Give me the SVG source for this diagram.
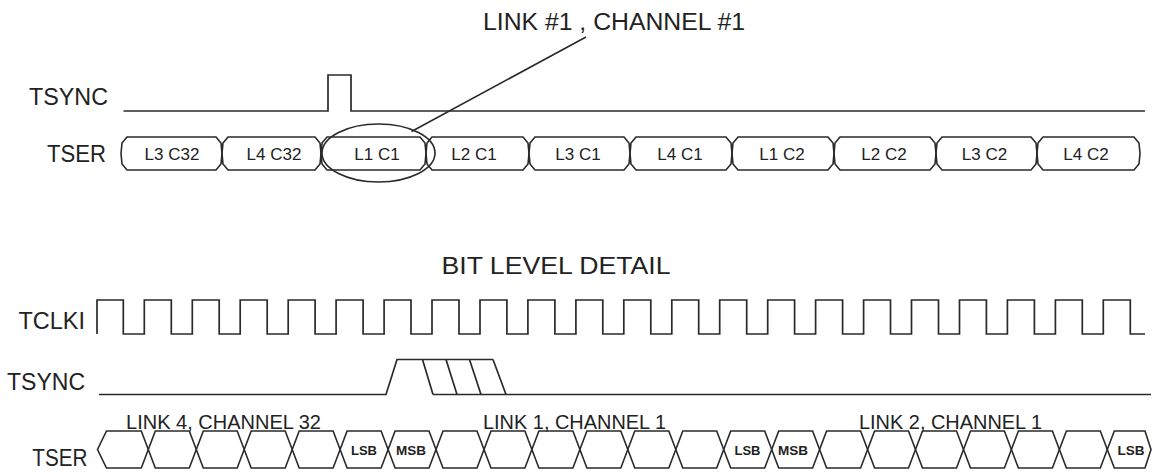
<svg xmlns="http://www.w3.org/2000/svg" width="1154" height="473" viewBox="0 0 1154 473">
<style>
.w{fill:none;stroke:#2a2a2a;stroke-width:1.7;stroke-linejoin:miter}
.bx{fill:none;stroke:#2a2a2a;stroke-width:1.6}
.lbl{font-family:"Liberation Sans",Arial,sans-serif;font-size:24px;fill:#222}
.ttl{font-family:"Liberation Sans",Arial,sans-serif;font-size:23px;fill:#222}
.sm{font-family:"Liberation Sans",Arial,sans-serif;font-size:17px;fill:#222;text-anchor:middle}
.bl{font-family:"Liberation Sans",Arial,sans-serif;font-size:20px;fill:#222}
.bit{font-family:"Liberation Sans",Arial,sans-serif;font-size:13px;font-weight:bold;fill:#222;text-anchor:middle}
</style>
<rect width="1154" height="473" fill="#fff"/>

<g id="title">
<text class="ttl" x="483" y="30" textLength="262" lengthAdjust="spacingAndGlyphs">LINK #1 , CHANNEL #1</text>
</g>

<g id="tsync-top">
<text class="lbl" x="29" y="104.5" textLength="79" lengthAdjust="spacingAndGlyphs">TSYNC</text>
<path class="w" d="M123.5,111 H328 V75 H351 V111 H1145"/>
</g>

<g id="tser-top">
<text class="lbl" x="47" y="162" textLength="59" lengthAdjust="spacingAndGlyphs">TSER</text>
<path class="bx" d="M127,137 H216 L221,143 L222,153.5 L221,164 L216,170 H127 L122,164 L121,153.5 L122,143 Z"/>
<path class="bx" d="M228,137 H315 L320,143 L321,153.5 L320,164 L315,170 H228 L223,164 L222,153.5 L223,143 Z"/>
<path class="bx" d="M327,137 H420 L425,143 L426,153.5 L425,164 L420,170 H327 L322,164 L321,153.5 L322,143 Z"/>
<path class="bx" d="M432,137 H523 L528,143 L529,153.5 L528,164 L523,170 H432 L427,164 L426,153.5 L427,143 Z"/>
<path class="bx" d="M535,137 H624 L629,143 L630,153.5 L629,164 L624,170 H535 L530,164 L529,153.5 L530,143 Z"/>
<path class="bx" d="M636,137 H726 L731,143 L732,153.5 L731,164 L726,170 H636 L631,164 L630,153.5 L631,143 Z"/>
<path class="bx" d="M738,137 H828 L833,143 L834,153.5 L833,164 L828,170 H738 L733,164 L732,153.5 L733,143 Z"/>
<path class="bx" d="M840,137 H930 L935,143 L936,153.5 L935,164 L930,170 H840 L835,164 L834,153.5 L835,143 Z"/>
<path class="bx" d="M942,137 H1031 L1036,143 L1037,153.5 L1036,164 L1031,170 H942 L937,164 L936,153.5 L937,143 Z"/>
<path class="bx" d="M1043,137 H1134 L1139,143 L1140,153.5 L1139,164 L1134,170 H1043 L1038,164 L1037,153.5 L1038,143 Z"/>
<text class="sm" x="172" y="160">L3 C32</text>
<text class="sm" x="274" y="160">L4 C32</text>
<text class="sm" x="377" y="160">L1 C1</text>
<text class="sm" x="474" y="160">L2 C1</text>
<text class="sm" x="578" y="160">L3 C1</text>
<text class="sm" x="680" y="160">L4 C1</text>
<text class="sm" x="782" y="160">L1 C2</text>
<text class="sm" x="884" y="160">L2 C2</text>
<text class="sm" x="984.5" y="160">L3 C2</text>
<text class="sm" x="1086" y="160">L4 C2</text>
</g>

<g id="callout">
<ellipse class="bx" cx="378.5" cy="153" rx="56.5" ry="29"/>
<line class="bx" x1="411.5" y1="131.5" x2="586" y2="37"/>
</g>

<g id="bit-title">
<text class="lbl" x="441.5" y="274" textLength="229" lengthAdjust="spacingAndGlyphs">BIT LEVEL DETAIL</text>
</g>

<g id="tclki">
<text class="lbl" x="18.5" y="329" textLength="66.5" lengthAdjust="spacingAndGlyphs">TCLKI</text>
<path class="w" d="M97,334 V300 H123.3 V334 H144.3 V300 H171.3 V334 H192.3 V300 H219.2 V334 H240.2 V300 H267.2 V334 H288.2 V300 H315.1 V334 H336.1 V300 H363.1 V334 H384.1 V300 H411 V334 H432 V300 H459 V334 H480 V300 H506.9 V334 H527.9 V300 H554.9 V334 H575.9 V300 H602.8 V334 H623.8 V300 H650.8 V334 H671.8 V300 H698.7 V334 H719.7 V300 H746.7 V334 H767.7 V300 H794.6 V334 H815.6 V300 H842.6 V334 H863.6 V300 H890.5 V334 H911.5 V300 H938.5 V334 H959.5 V300 H986.4 V334 H1007.4 V300 H1034.4 V334 H1055.4 V300 H1082.3 V334 H1103.3 V300 H1130.3 V334 H1145"/>
</g>

<g id="tsync-bit">
<text class="lbl" x="7" y="389.5" textLength="78" lengthAdjust="spacingAndGlyphs">TSYNC</text>
<path class="w" d="M99,394.5 H386 L397,359.5 H493"/>
<path class="w" d="M422.5,359.5 L433,394.5 M446,359.5 L457,394.5 M469.5,359.5 L481,394.5 M493,359.5 L506,394.5 M433,394.5 H1151"/>
</g>

<g id="tser-bit">
<text class="lbl" x="32.3" y="466" textLength="55" lengthAdjust="spacingAndGlyphs">TSER</text>
<path class="bx" d="M106.5,431 H141.3 L148.3,449.5 L141.3,468 H106.5 L97.5,449.5 Z"/>
<path class="bx" d="M155.3,431 H189.3 L196.3,449.5 L189.3,468 H155.3 L148.3,449.5 Z"/>
<path class="bx" d="M203.3,431 H237.2 L244.2,449.5 L237.2,468 H203.3 L196.3,449.5 Z"/>
<path class="bx" d="M251.2,431 H285.2 L292.2,449.5 L285.2,468 H251.2 L244.2,449.5 Z"/>
<path class="bx" d="M299.2,431 H333.1 L340.1,449.5 L333.1,468 H299.2 L292.2,449.5 Z"/>
<path class="bx" d="M347.1,431 H381.1 L388.1,449.5 L381.1,468 H347.1 L340.1,449.5 Z"/>
<path class="bx" d="M395.1,431 H429 L436,449.5 L429,468 H395.1 L388.1,449.5 Z"/>
<path class="bx" d="M443,431 H477 L484,449.5 L477,468 H443 L436,449.5 Z"/>
<path class="bx" d="M491,431 H524.9 L531.9,449.5 L524.9,468 H491 L484,449.5 Z"/>
<path class="bx" d="M538.9,431 H572.9 L579.9,449.5 L572.9,468 H538.9 L531.9,449.5 Z"/>
<path class="bx" d="M586.9,431 H620.8 L627.8,449.5 L620.8,468 H586.9 L579.9,449.5 Z"/>
<path class="bx" d="M634.8,431 H668.8 L675.8,449.5 L668.8,468 H634.8 L627.8,449.5 Z"/>
<path class="bx" d="M682.8,431 H716.7 L723.7,449.5 L716.7,468 H682.8 L675.8,449.5 Z"/>
<path class="bx" d="M730.7,431 H764.7 L771.7,449.5 L764.7,468 H730.7 L723.7,449.5 Z"/>
<path class="bx" d="M778.7,431 H812.6 L819.6,449.5 L812.6,468 H778.7 L771.7,449.5 Z"/>
<path class="bx" d="M826.6,431 H860.6 L867.6,449.5 L860.6,468 H826.6 L819.6,449.5 Z"/>
<path class="bx" d="M874.6,431 H908.5 L915.5,449.5 L908.5,468 H874.6 L867.6,449.5 Z"/>
<path class="bx" d="M922.5,431 H956.5 L963.5,449.5 L956.5,468 H922.5 L915.5,449.5 Z"/>
<path class="bx" d="M970.5,431 H1004.4 L1011.4,449.5 L1004.4,468 H970.5 L963.5,449.5 Z"/>
<path class="bx" d="M1018.4,431 H1052.4 L1059.4,449.5 L1052.4,468 H1018.4 L1011.4,449.5 Z"/>
<path class="bx" d="M1066.4,431 H1100.3 L1107.3,449.5 L1100.3,468 H1066.4 L1059.4,449.5 Z"/>
<path class="bx" d="M1114.3,431 H1145 L1151,449.5 L1145,468 H1114.3 L1107.3,449.5 Z"/>
<text class="bit" x="364" y="455" textLength="26" lengthAdjust="spacingAndGlyphs">LSB</text>
<text class="bit" x="411" y="455" textLength="30" lengthAdjust="spacingAndGlyphs">MSB</text>
<text class="bit" x="747.5" y="455" textLength="26" lengthAdjust="spacingAndGlyphs">LSB</text>
<text class="bit" x="793" y="455" textLength="30" lengthAdjust="spacingAndGlyphs">MSB</text>
<text class="bit" x="1131" y="455" textLength="27" lengthAdjust="spacingAndGlyphs">LSB</text>
<text class="bl" x="126" y="428.5" textLength="195" lengthAdjust="spacingAndGlyphs">LINK 4, CHANNEL 32</text>
<text class="bl" x="483" y="429" textLength="183" lengthAdjust="spacingAndGlyphs">LINK 1, CHANNEL 1</text>
<text class="bl" x="859" y="429" textLength="183" lengthAdjust="spacingAndGlyphs">LINK 2, CHANNEL 1</text>
</g>
</svg>
